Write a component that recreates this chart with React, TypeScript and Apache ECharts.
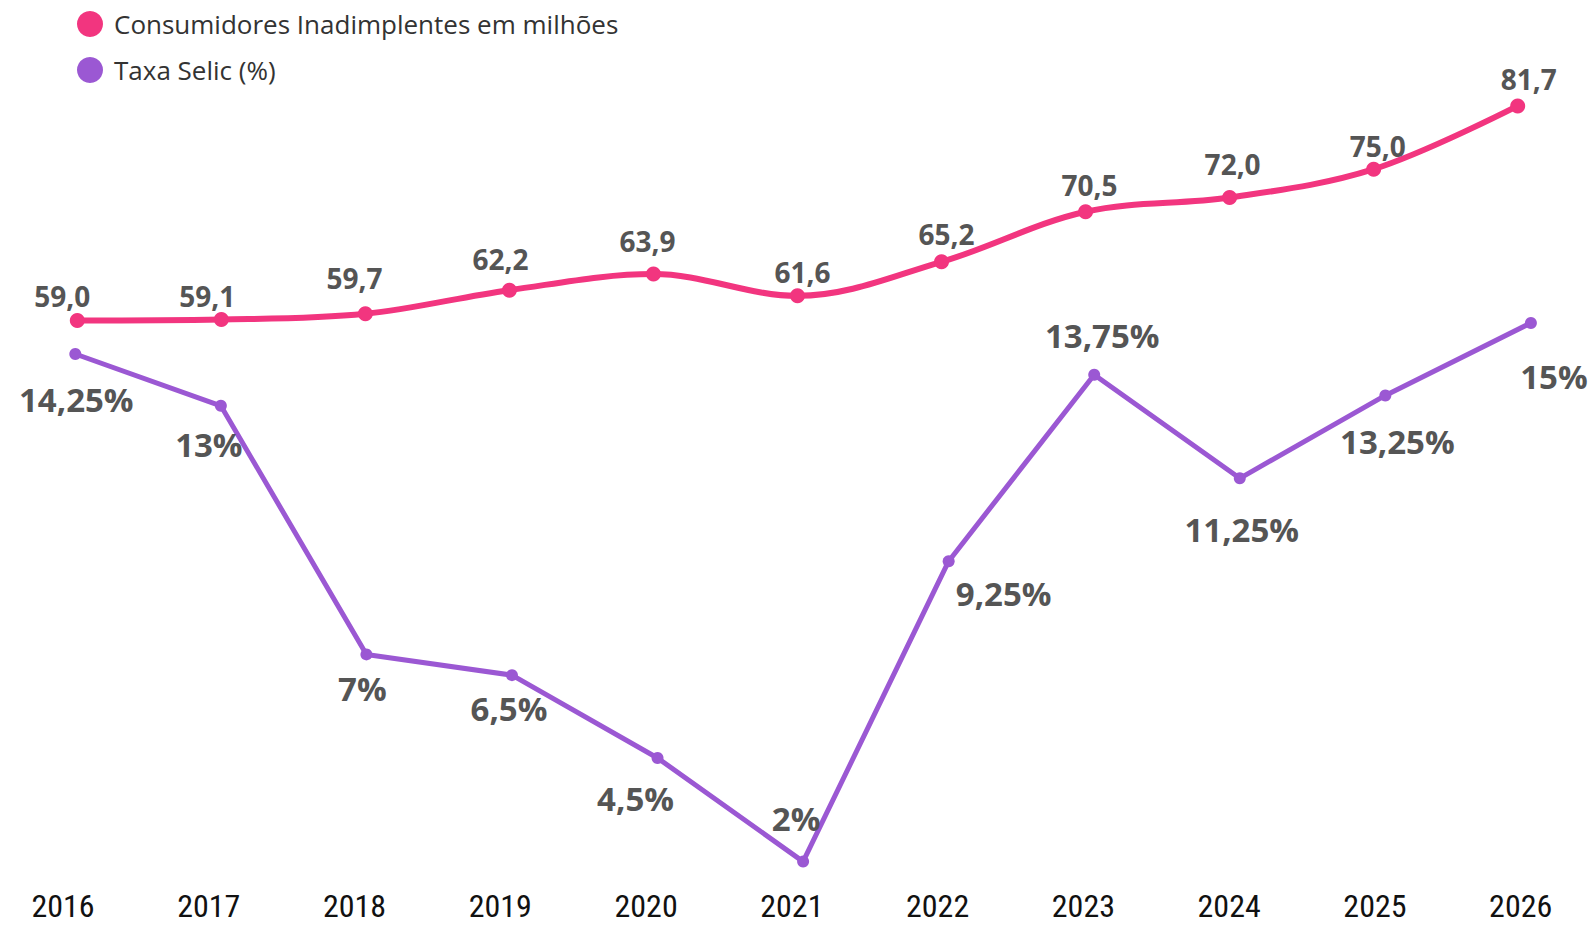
import React, { useEffect, useRef } from "react";
import * as echarts from "echarts";

const years = ["2016", "2017", "2018", "2019", "2020", "2021", "2022", "2023", "2024", "2025", "2026"];
const inadimplentes = [59.0, 59.1, 59.7, 62.2, 63.9, 61.6, 65.2, 70.5, 72.0, 75.0, 81.7];
const selic = [14.25, 13, 7, 6.5, 4.5, 2, 9.25, 13.75, 11.25, 13.25, 15];

const seriesNames = ["Consumidores Inadimplentes em milhões", "Taxa Selic (%)"];

// label placement (layout only)
const inadOffsets = [
  [-15, -24], [-14, -23], [-11, -36], [-9, -31], [-6, -33], [5, -24],
  [5, -28], [4, -27], [3, -34], [4, -23], [11, -27],
];
const selicOffsets = [
  [1, 45], [-12, 39], [-4, 34], [-3, 33], [-22, 40], [-7, -43],
  [55, 32], [8, -39], [2, 51], [12, 46], [23, 54],
];

const PINK = "#F2357F";
const PURPLE = "#9B58D3";
const LABEL = "#555555";

const fmtInad = (v: number) => v.toFixed(1).replace(".", ",");
const fmtSelic = (v: number) => String(v).replace(".", ",") + "%";

export default function App() {
  const ref = useRef<HTMLDivElement>(null);
  useEffect(() => {
    if (!ref.current) return;
    const chart = echarts.init(ref.current, null, { renderer: "svg" });
    const option: any = {
      animation: false,
      backgroundColor: "#ffffff",
      legend: {
        orient: "vertical",
        left: 72,
        top: 6,
        icon: "circle",
        itemWidth: 26,
        itemHeight: 26,
        itemGap: 20,
        data: seriesNames,
        textStyle: {
          fontFamily: "Open Sans",
          fontSize: 26,
          color: "#333333",
          padding: [0, 0, 0, 6],
        },
      },
      grid: [
        { left: 77.3, width: 1440.4, top: 103.05, height: 226.8, outerBoundsMode: "none" },
        { left: 75.3, width: 1455.6, top: 281.5, height: 580.1, outerBoundsMode: "none" },
        { left: 63, width: 1457.7, top: 100, height: 790, outerBoundsMode: "none" },
      ],
      xAxis: [
        { type: "category", gridIndex: 0, data: years, boundaryGap: false, show: false },
        { type: "category", gridIndex: 1, data: years, boundaryGap: false, show: false },
        {
          type: "category",
          gridIndex: 2,
          data: years,
          boundaryGap: false,
          axisLine: { show: false },
          axisTick: { show: false },
          splitLine: { show: false },
          axisLabel: {
            margin: 2,
            fontSize: 32,
            lineHeight: 28,
            color: "#111111",
            fontFamily: "Liberation Sans Narrow, Roboto Condensed, Arial Narrow, sans-serif",
            interval: 0,
          },
        },
      ],
      yAxis: [
        { type: "value", gridIndex: 0, min: 58, max: 82, show: false },
        { type: "value", gridIndex: 1, min: 2, max: 16, show: false },
        { type: "value", gridIndex: 2, min: 0, max: 1, show: false },
      ],
      series: [
        {
          name: seriesNames[0],
          type: "line",
          xAxisIndex: 0,
          yAxisIndex: 0,
          smooth: 0.35,
          symbol: "circle",
          symbolSize: 15,
          lineStyle: { color: PINK, width: 6 },
          itemStyle: { color: PINK },
          data: inadimplentes.map((v, i) => ({
            value: v,
            label: {
              show: true,
              position: "inside",
              offset: inadOffsets[i],
              formatter: fmtInad(v),
            },
          })),
          label: {
            fontFamily: "Open Sans",
            fontWeight: "bold",
            fontSize: 28,
            color: LABEL,
          },
          z: 3,
        },
        {
          name: seriesNames[1],
          type: "line",
          xAxisIndex: 1,
          yAxisIndex: 1,
          symbol: "circle",
          symbolSize: 12,
          lineStyle: { color: PURPLE, width: 5 },
          itemStyle: { color: PURPLE },
          data: selic.map((v, i) => ({
            value: v,
            label: {
              show: true,
              position: "inside",
              offset: selicOffsets[i],
              formatter: fmtSelic(v),
            },
          })),
          label: {
            fontFamily: "Open Sans",
            fontWeight: "bold",
            fontSize: 33,
            color: LABEL,
          },
          z: 2,
        },
      ],
    };
    chart.setOption(option);
    return () => chart.dispose();
  }, []);
  return (
    <div
      ref={ref}
      style={{ position: "absolute", left: 0, top: 0, width: 1595, height: 929 }}
    />
  );
}
